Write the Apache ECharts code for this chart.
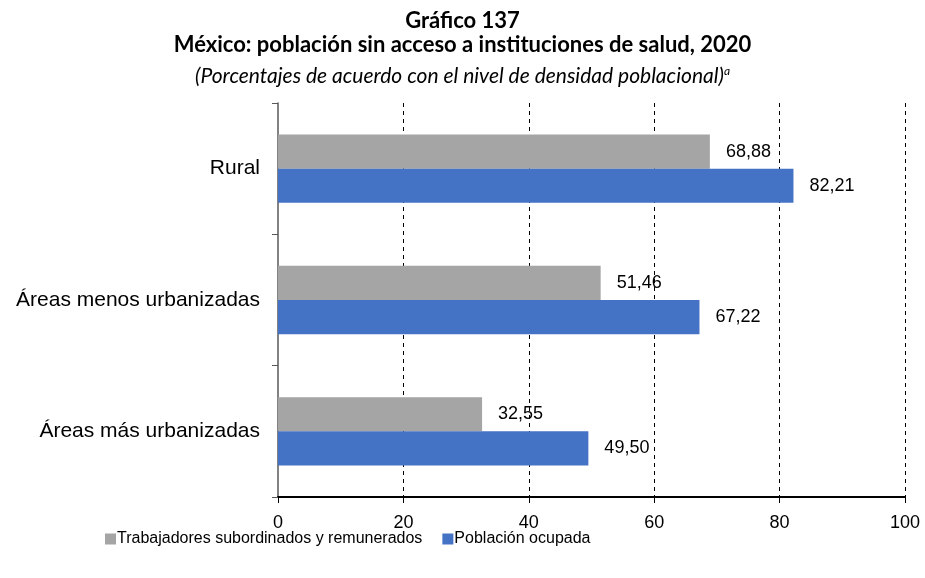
<!DOCTYPE html>
<html><head><meta charset="utf-8">
<script src="https://cdn.jsdelivr.net/npm/echarts@6/dist/echarts.min.js"></script>
<style>html,body{margin:0;padding:0;background:#fff}#c{width:925px;height:578px}</style>
</head><body><div id="c"></div>
<script>
const categories = ['Áreas más urbanizadas', 'Áreas menos urbanizadas', 'Rural'];
const trabajadores = [32.55, 51.46, 68.88];
const poblacion = [49.50, 67.22, 82.21];
const xTicks = [0, 20, 40, 60, 80, 100];
const seriesNames = ['Trabajadores subordinados y remunerados', 'Población ocupada'];

const chart = echarts.init(document.getElementById('c'));
const fmt = p => p.value.toFixed(2).replace('.', ',');
const titleFont = 'Lato, "Open Sans", sans-serif';
const sans = '"Liberation Sans", Arial, sans-serif';
chart.setOption({
  animation: false,
  title: [
    {text: 'Gráfico 137', left: 'center', top: 5, textStyle: {fontFamily: titleFont, fontWeight: 'bold', fontSize: 22, color: '#000'}},
    {text: 'México: población sin acceso a instituciones de salud, 2020', left: 'center', top: 29, textStyle: {fontFamily: titleFont, fontWeight: 'bold', fontSize: 22, color: '#000'}},
    {text: '{t|(Porcentajes de acuerdo con el nivel de densidad poblacional)}{s|a}', left: 'center', top: 60,
     textStyle: {fontWeight: 'normal', rich: {
       t: {fontFamily: titleFont, fontStyle: 'italic', fontWeight: 'normal', fontSize: 21, color: '#000'},
       s: {fontFamily: titleFont, fontStyle: 'italic', fontWeight: 'normal', fontSize: 12, color: '#000', verticalAlign: 'top', padding: [0, 0, 10, 0]}
     }}}
  ],
  legend: {
    top: 526, left: 100, itemGap: 20, itemWidth: 11, itemHeight: 11, icon: 'rect',
    data: seriesNames,
    textStyle: {fontFamily: sans, fontSize: 16, color: '#000', padding: [0, 0, 0, -4]}
  },
  grid: {left: 278, right: 20, top: 103, bottom: 81},
  xAxis: {
    type: 'value', min: 0, max: 100, interval: 20,
    axisLine: {show: true, lineStyle: {color: '#000', width: 2}},
    axisTick: {show: true, length: 6, lineStyle: {color: '#000'}},
    axisLabel: {fontFamily: sans, fontSize: 18, color: '#000', margin: 17},
    splitLine: {show: true, showMinLine: false, lineStyle: {color: '#000', type: [4, 4], width: 1}}
  },
  yAxis: {
    type: 'category', data: categories,
    axisLine: {show: true, lineStyle: {color: '#595959', width: 1.5}},
    axisTick: {show: true, length: 6, lineStyle: {color: '#595959'}},
    axisLabel: {fontFamily: sans, fontSize: 21, color: '#000', margin: 18}
  },
  series: [
    {name: seriesNames[0], type: 'bar', data: trabajadores, barGap: '0%', barCategoryGap: '48%',
     itemStyle: {color: '#A5A5A5'},
     label: {show: true, position: 'right', distance: 16, formatter: fmt, fontFamily: sans, fontSize: 18, color: '#000'}},
    {name: seriesNames[1], type: 'bar', data: poblacion, barGap: '0%', barCategoryGap: '48%',
     itemStyle: {color: '#4472C4'},
     label: {show: true, position: 'right', distance: 16, formatter: fmt, fontFamily: sans, fontSize: 18, color: '#000'}}
  ]
});
</script></body></html>
